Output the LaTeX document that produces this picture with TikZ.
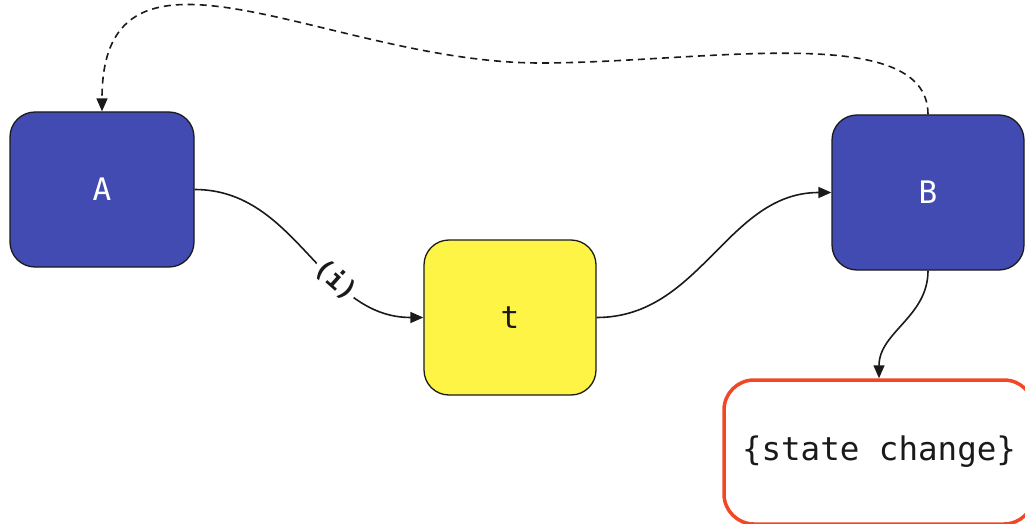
\documentclass[tikz,border=0pt]{standalone}
\usepackage{fontspec}
\setmonofont{DejaVu Sans Mono}
\usetikzlibrary{arrows.meta}
\definecolor{boxblue}{HTML}{414BB2}
\definecolor{boxyellow}{HTML}{FEF445}
\definecolor{boxred}{HTML}{F24726}
\definecolor{ink}{HTML}{1A1A1A}
\begin{document}
\begin{tikzpicture}[x=1pt,y=-1pt,
  card/.style={draw=ink, line width=1.3pt, rounded corners=25pt, inner sep=0pt,
    minimum height=155pt, text=ink, font=\ttfamily\fontsize{31}{31}\selectfont},
  link/.style={draw=ink, line width=1.6pt, -{Triangle[length=13pt,width=11pt]}},
  tag/.style={sloped, fill=white, inner sep=1.5pt, text=ink,
    font=\ttfamily\bfseries\fontsize{26}{26}\selectfont}]
  \useasboundingbox (0,0) rectangle (1025,524);
  \clip (0,0) rectangle (1025,524);

  % boxes
  \node[card, fill=boxblue, text=white, minimum width=184pt] (A) at (102,189.5) {A};
  \node[card, fill=boxyellow, minimum width=172pt] (T) at (510,317.5) {t};
  \node[card, fill=boxblue, text=white, minimum width=192pt] (B) at (928,192.5) {B};
  \node[card, draw=boxred, line width=3.5pt, fill=white, rounded corners=30pt,
        minimum width=310pt, minimum height=144pt,
        font=\ttfamily\fontsize{32.5}{32.5}\selectfont] (S) at (879,452) {\{state change\}};

  % connectors
  \draw[link] (A.east) to[out=0, in=180] node[tag, pos=0.64] {(i)} (T.west);
  \draw[link] (T.east) to[out=0, in=180] (B.west);
  \draw[link] (B.south) to[out=-90, in=90] (S.north);
  \draw[link, dash pattern=on 7pt off 5pt] (B.north)
     .. controls (928,20) and (700,63) .. (540,63)
     .. controls (330,63) and (102,-90) .. (A.north);
\end{tikzpicture}
\end{document}
